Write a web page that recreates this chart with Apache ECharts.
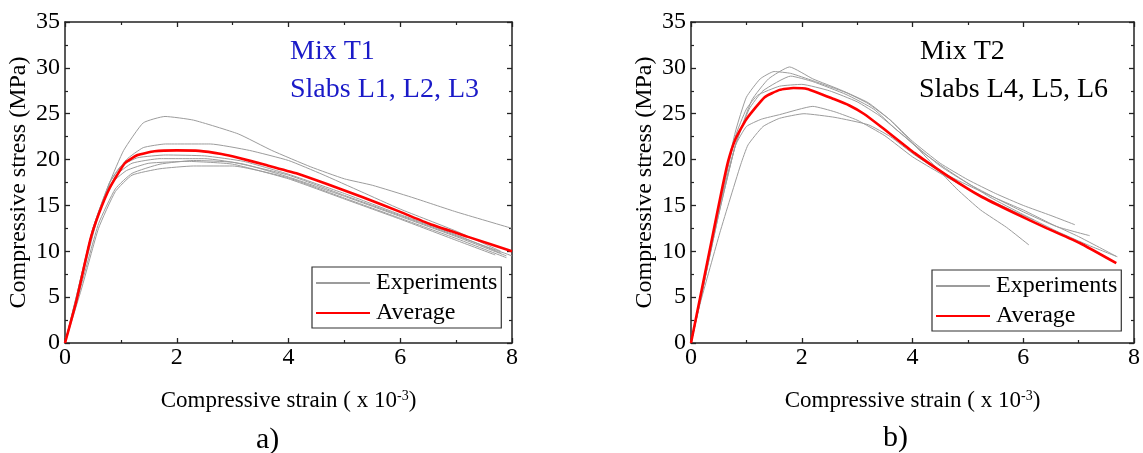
<!DOCTYPE html>
<html>
<head>
<meta charset="utf-8">
<script src="https://cdn.jsdelivr.net/npm/echarts@6/dist/echarts.min.js"></script>
<style>
html,body{margin:0;padding:0;background:#fff;}
#chart{width:1143px;height:453px;}
</style>
</head>
<body>
<div id="chart"></div>
<script>
// ---- axis ticks ----
const xTicks = [0, 2, 4, 6, 8];
const yTicks = [0, 5, 10, 15, 20, 25, 30, 35];

// ---- panel a) Mix T1 : experiments (strain x10^-3, stress MPa) ----
const leftExp1 = [[0,0],[0.2,4.8],[0.5,12],[0.8,17.5],[1.05,21],[1.4,24],[1.79,24.7],[2.3,24.3],[3.1,22.8],[3.7,21],[4.4,19.2],[5,17.9],[5.5,17.2],[6.2,15.9],[7,14.3],[8,12.5]];
const leftExp2 = [[0,0],[0.2,5],[0.5,12.5],[0.8,17.5],[1.1,20],[1.4,21.3],[1.8,21.7],[2.6,21.7],[3.3,21.0],[4,19.9],[4.6,18.4],[5.3,16.5],[6,14.6],[7,12.2],[7.8,10.0]];
const leftExp3 = [[0,0],[0.25,6],[0.5,12.5],[0.8,17.5],[1.0,19.3],[1.3,20.2],[1.8,20.5],[2.5,20.4],[3.2,19.8],[4,18.4],[5,16.3],[6,14],[7,11.8],[7.8,9.8]];
const leftExp4 = [[0,0],[0.3,7],[0.6,14],[0.9,18.2],[1.2,19.6],[1.7,20.1],[2.5,20.1],[3.2,19.5],[4,18.1],[5,16],[6,13.8],[7,11.6],[7.9,9.5]];
const leftExp5 = [[0,0],[0.3,6.5],[0.6,13],[0.9,16.8],[1.2,18.5],[1.7,19.5],[2.3,19.9],[3,19.7],[4,18.3],[5,16.1],[6,13.9],[7,11.7],[8,9.5]];
const leftExp6 = [[0,0],[0.3,6],[0.6,12.5],[0.9,16.5],[1.2,18.3],[1.7,19],[2.3,19.3],[3,19.3],[4,18],[5,15.8],[6,13.6],[7,11.4],[7.9,9.3]];
const leftExp7 = [[0,0],[0.2,5],[0.5,12.5],[0.8,17.2],[1.1,18.8],[1.5,19.6],[2.2,19.8],[3,19.5],[4,17.9],[5,15.7],[6,13.5],[7,11.2],[7.7,9.6]];
const leftAvg  = [[0,0],[0.2,4.5],[0.45,11.2],[0.6,14],[0.8,16.9],[1.07,19.6],[1.3,20.5],[1.6,20.9],[2,21],[2.4,20.95],[2.8,20.6],[3.1,20.2],[3.6,19.4],[4.14,18.5],[4.7,17.3],[5.33,15.9],[6,14.3],[6.52,13.0],[7.2,11.6],[8,10.0]];

// ---- panel b) Mix T2 ----
const rightExp1 = [[0,0],[0.2,5.5],[0.5,14],[0.8,21.5],[1.1,26.5],[1.4,28.8],[1.78,30.1],[2.2,28.8],[2.7,27.6],[3.2,26.2],[3.6,24.3],[4.0,21.8],[4.4,19.3],[4.8,16.8],[5.23,14.5],[5.7,12.6],[6.1,10.7]];
const rightExp2 = [[0,0],[0.2,6],[0.5,15],[0.8,23],[1.0,26.8],[1.25,28.8],[1.5,29.6],[1.8,29.4],[2.2,28.6],[2.8,27.3],[3.2,26.1],[3.6,24.3],[4,22],[4.5,19.6],[5,17.8],[5.5,16.3],[6,15],[6.5,13.9],[6.93,12.9]];
const rightExp3 = [[0,0],[0.2,5.5],[0.5,14],[0.8,21.5],[1.05,25.5],[1.3,27.5],[1.8,29.1],[2.2,28.5],[2.8,27.1],[3.3,25.5],[3.7,23.3],[4,21.8],[4.5,19.3],[5,17.4],[5.5,15.8],[6,14.3],[6.6,12.7],[7.2,11.7]];
const rightExp4 = [[0,0],[0.2,5.5],[0.5,14.5],[0.8,22.5],[1.0,25.5],[1.2,27],[1.6,28],[2.0,28.2],[2.5,27.5],[3,26.3],[3.4,24.8],[3.8,22.8],[4.2,20.7],[4.8,18.2],[5.4,15.9],[6,14.0],[6.6,12.2],[7.2,10.6],[7.7,9.4]];
const rightExp5 = [[0,0],[0.2,5.5],[0.5,14.5],[0.8,21.5],[1.0,23.6],[1.27,24.4],[1.6,24.9],[2.2,25.8],[2.6,25.2],[3,24.3],[3.5,22.6],[4,20.3],[4.5,18.5],[5,16.8],[5.5,15.3],[6,13.9],[6.2,13.4]];
const rightExp6 = [[0,0],[0.17,4.4],[0.52,12],[0.7,15.6],[0.9,19.5],[1.03,21.6],[1.3,23.6],[1.6,24.5],[2.04,25.0],[2.6,24.6],[3.2,23.8],[3.6,22.5],[4.04,20.5],[4.5,18.7],[5,17.2],[5.5,15.8],[6,14.5],[6.5,13],[7,11.6],[7.68,9.45]];
const rightAvg  = [[0,0],[0.2,6],[0.4,12],[0.55,16.5],[0.67,19.8],[0.8,22.2],[1.0,24.4],[1.33,26.8],[1.6,27.6],[1.85,27.8],[2.1,27.7],[2.58,26.6],[2.86,25.9],[3.12,25.0],[3.45,23.5],[4.04,20.7],[4.64,18.2],[5.23,16.0],[5.83,14.2],[6.43,12.5],[7.02,10.9],[7.68,8.7]];

const leftExps = [leftExp1, leftExp2, leftExp3, leftExp4, leftExp5, leftExp6, leftExp7];
const rightExps = [rightExp1, rightExp2, rightExp3, rightExp4, rightExp5, rightExp6];

const FONT = '"Liberation Serif", "Times New Roman", serif';
const AX = '#222';

function xAxes(gridIndex) {
  const base = {
    type: 'value', gridIndex: gridIndex,
    min: xTicks[0], max: xTicks[xTicks.length - 1], interval: xTicks[1] - xTicks[0],
    axisLine: { show: true, onZero: false, lineStyle: { color: AX, width: 1.5 } },
    axisTick: { show: true, inside: true, length: 5, lineStyle: { color: AX, width: 1.3 } },
    minorTick: { show: true, splitNumber: 2, length: 3, lineStyle: { color: AX, width: 1.2 } },
    splitLine: { show: false }
  };
  return [
    Object.assign({}, base, {
      position: 'bottom',
      axisLabel: { show: true, margin: 3, color: '#000', fontFamily: FONT, fontSize: 24 },
      name: 'Compressive strain ( x 10{sup|-3})',
      nameLocation: 'middle', nameGap: 46,
      nameTextStyle: { color: '#000', fontFamily: FONT, fontSize: 23,
        rich: { sup: { fontFamily: FONT, fontSize: 14, color: '#000', verticalAlign: 'top', padding: [0, 0, 10, 0] } } }
    }),
    Object.assign({}, base, { position: 'top', axisLabel: { show: false } })
  ];
}
function yAxes(gridIndex) {
  const base = {
    type: 'value', gridIndex: gridIndex,
    min: yTicks[0], max: yTicks[yTicks.length - 1], interval: yTicks[1] - yTicks[0],
    axisLine: { show: true, onZero: false, lineStyle: { color: AX, width: 1.5 } },
    axisTick: { show: true, inside: true, length: 5, lineStyle: { color: AX, width: 1.3 } },
    minorTick: { show: true, splitNumber: 2, length: 3, lineStyle: { color: AX, width: 1.2 } },
    splitLine: { show: false }
  };
  return [
    Object.assign({}, base, {
      position: 'left',
      axisLabel: { show: true, margin: 5, color: '#000', fontFamily: FONT, fontSize: 24 },
      name: 'Compressive stress (MPa)',
      nameLocation: 'middle', nameGap: 34,
      nameTextStyle: { color: '#000', fontFamily: FONT, fontSize: 24 }
    }),
    Object.assign({}, base, { position: 'right', axisLabel: { show: false } })
  ];
}

const series = [];
function addPanel(exps, avg, xi, yi) {
  exps.forEach(function (d) {
    series.push({
      type: 'line', name: 'Experiments', xAxisIndex: xi, yAxisIndex: yi, data: d,
      symbol: 'none', smooth: 0.15, z: 2,
      lineStyle: { color: '#9c9c9c', width: 1 }, itemStyle: { color: '#9c9c9c' }
    });
  });
  series.push({
    type: 'line', name: 'Average', xAxisIndex: xi, yAxisIndex: yi, data: avg,
    symbol: 'none', smooth: 0.15, z: 3,
    lineStyle: { color: '#ff0000', width: 2.6 }, itemStyle: { color: '#ff0000' }
  });
}
addPanel(leftExps, leftAvg, 0, 0);
addPanel(rightExps, rightAvg, 2, 2);

function legendAt(left, top) {
  return {
    left: left, top: top, orient: 'vertical',
    data: ['Experiments', 'Average'],
    itemWidth: 54, itemHeight: 14, itemGap: 6,
    padding: [4, 4, 3, 3],
    borderColor: '#333', borderWidth: 1.2, backgroundColor: '#fff',
    selectedMode: false,
    itemStyle: { opacity: 0 },
    textStyle: { color: '#000', fontFamily: FONT, fontSize: 24, padding: [0, 0, 0, 1] }
  };
}

const option = {
  animation: false,
  backgroundColor: '#fff',
  grid: [
    { left: 65, top: 22, width: 447, height: 321 },
    { left: 691, top: 22, width: 447, height: 321 }
  ],
  xAxis: xAxes(0).concat(xAxes(1)),
  yAxis: yAxes(0).concat(yAxes(1)),
  legend: [legendAt(312, 267), legendAt(932, 270)],
  series: series,
  graphic: [
    { type: 'text', left: 290, top: 38, style: { text: 'Mix T1', fill: '#1a1ac8', font: '28px ' + FONT } },
    { type: 'text', left: 290, top: 76, style: { text: 'Slabs L1, L2, L3', fill: '#1a1ac8', font: '28px ' + FONT } },
    { type: 'text', left: 920, top: 38, style: { text: 'Mix T2', fill: '#000', font: '28px ' + FONT } },
    { type: 'text', left: 919, top: 76, style: { text: 'Slabs L4, L5, L6', fill: '#000', font: '28px ' + FONT } },
    { type: 'text', left: 256, top: 425, style: { text: 'a)', fill: '#000', font: '30px ' + FONT } },
    { type: 'text', left: 883, top: 423, style: { text: 'b)', fill: '#000', font: '30px ' + FONT } }
  ]
};

const chart = echarts.init(document.getElementById('chart'), null, { renderer: 'canvas' });
chart.setOption(option);
</script>
</body>
</html>
